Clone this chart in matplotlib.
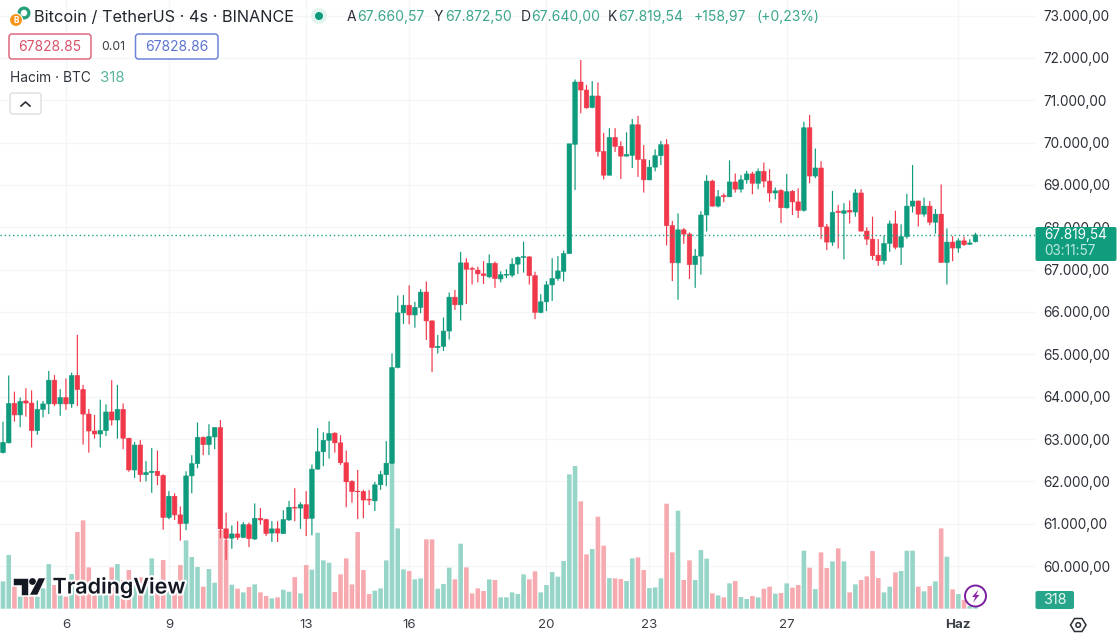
import numpy as np
import matplotlib
matplotlib.use("Agg")
import matplotlib.pyplot as plt
from matplotlib.patches import FancyBboxPatch, Rectangle, Circle, Polygon
from matplotlib.transforms import Affine2D
import matplotlib.patheffects as pe

opens = [62680,62910,63840,63570,63900,63850,63200,63700,63830,64390,
 63830,63980,63830,64500,64170,63590,63190,63120,63200,63640,
 63450,63700,63020,62270,62860,62160,62210,62240,62140,61150,
 61650,61210,61010,62130,62420,63040,62870,63050,63270,60880,
 60660,60760,60680,60980,60640,61130,61100,60780,60880,60770,
 61090,61390,61370,61450,61130,62290,62700,62970,63140,62910,
 62440,62000,61770,61760,61580,61540,61920,62160,62430,64690,
 65980,66160,65930,66110,66470,65790,65160,65190,65550,66350,
 66170,67160,67030,66990,66900,66830,67150,66780,66870,66870,
 67130,67290,67300,66860,65990,66240,66640,66790,66960,67380,
 69960,71430,71240,70830,71100,69790,69230,70120,69910,69680,
 69700,70420,69600,69120,69420,69690,69950,68040,67160,67940,
 67840,67120,67320,68290,69090,68500,68750,68720,69070,68900,
 69120,69260,69040,69320,69090,68810,68870,68460,68850,68600,
 68400,70350,69210,69400,68010,67650,68380,68330,68400,68360,
 68810,67910,67720,67340,67210,67620,68080,67530,67780,68500,
 68620,68310,68500,68120,68310,67170,67650,67510,67680,67600,
 67660.57]
highs = [63410,64500,64120,63980,64200,64150,63910,63900,64610,64510,
 64180,64430,64570,65460,64280,63710,63570,63930,63820,64390,
 64280,63840,63030,62930,62980,62480,62790,62730,62170,61770,
 61720,61410,62240,62620,63390,63060,63350,63280,63450,61260,
 60960,61060,61040,61030,61480,61370,61120,61060,61060,61320,
 61540,61840,61510,61770,62400,63260,63160,63420,63160,63090,
 62730,62030,62270,61800,61800,61990,62250,62950,65020,66390,
 66400,66630,66240,66540,66720,65800,65460,65870,66460,66520,
 67420,67270,67070,67070,67200,67360,67190,66960,67010,67270,
 67310,67660,67320,66950,66420,66730,67270,67320,67450,69970,
 71490,71950,71360,71450,71420,70230,70340,70340,70030,70240,
 70560,70630,69940,69590,69840,70040,70080,68150,68330,67980,
 67880,67490,68380,69230,69120,68880,68800,69580,69270,69230,
 69330,69310,69390,69530,69370,68940,68900,69260,68880,68920,
 70490,70650,69860,69560,68080,68860,68530,68570,68630,68900,
 68900,68000,68250,67720,67800,68160,68390,68070,68790,69470,
 68630,68700,68620,68430,69010,67970,67790,67740,67780,67720,
 67872.50]
lows = [62660,62900,63410,63280,63530,62800,63100,63510,63590,63780,
 63550,63690,63740,63780,62870,62680,63010,62800,63070,63320,
 63010,62760,62230,62080,61990,62000,61730,61910,60860,61110,
 61090,60600,60850,61720,62310,62620,62620,62760,60660,60150,
 60410,60620,60660,60450,60620,60980,60710,60570,60570,60760,
 61070,61060,60880,60710,60730,62280,62360,62540,62680,62390,
 61390,61500,61110,61130,61440,61300,61800,61890,62410,64670,
 65720,65710,65630,65970,65340,64580,65020,65080,65350,66050,
 65800,66190,66650,66700,66660,66800,66570,66700,66800,66820,
 66900,66930,66650,65830,65970,66020,66260,66740,66720,67370,
 68880,70690,70800,70810,69670,69130,69220,69780,69140,69670,
 69400,69190,68820,69110,69320,69470,67570,66730,66290,67610,
 66780,66570,66880,67900,68490,68470,68590,68710,68820,68820,
 69030,68780,68900,68940,68600,68660,68100,68440,68290,68220,
 68370,69040,69160,67720,67460,67560,67500,67240,68090,68250,
 67900,67580,67230,67090,67120,67420,67480,67110,67730,68350,
 68020,68250,68050,67850,67160,66650,67200,67400,67560,67580,
 67640]
closes = [62920,63840,63570,63890,63850,63200,63700,63830,64390,63830,
 63980,63830,64500,64170,63590,63190,63120,63200,63640,63450,
 63700,63020,62270,62860,62160,62210,62240,62140,61150,61650,
 61210,61000,62130,62420,63040,62870,63060,63270,60880,60660,
 60760,60680,60980,60650,61130,61090,60770,60880,60780,61100,
 61390,61370,61450,61120,62290,62700,62970,63130,62910,62440,
 61990,61760,61760,61560,61560,61920,62160,62430,64690,65980,
 66160,65930,66110,66470,65790,65160,65190,65550,66350,66170,
 67160,67010,67010,66900,66860,67150,66790,66880,66890,67130,
 67290,67310,66860,65990,66240,66640,66790,66970,67380,69970,
 71430,71240,70820,71100,69790,69230,70120,69910,69680,69720,
 70420,69600,69120,69420,69690,69950,68040,67160,67940,67840,
 67120,67320,68290,69090,68500,68720,68720,69070,68900,69120,
 69260,69040,69320,69090,68810,68860,68460,68840,68600,68400,
 70350,69210,69400,68010,67650,68350,68350,68390,68360,68810,
 67910,67720,67330,67210,67620,68080,67530,67780,68500,68620,
 68310,68500,68120,68310,67170,67650,67510,67680,67590,67630,
 67819.54]
volumes = [3280,6440,2640,1440,1440,1440,1440,2440,5360,2840,
 1640,1440,4160,9200,10600,4960,2440,3800,2240,4960,
 5360,3440,4640,3040,3760,2840,6040,2640,5840,2640,
 2440,5240,8200,6200,5000,2640,4760,3120,9440,8240,
 2880,2400,1960,2600,2920,1960,1520,1240,1360,2280,
 2040,3800,1840,5240,4680,9120,5800,5520,2000,4120,
 6040,2920,9200,4640,1760,2160,2440,5800,17600,9640,
 4720,4520,3520,3640,8320,8320,2400,2960,4920,3520,
 7800,4960,1840,2440,2120,3520,3440,1360,1360,1960,
 1760,4120,3520,4480,1960,2840,4400,3840,5720,16120,
 17120,12880,6520,7160,11040,7560,3680,3640,3560,3320,
 6040,6160,4640,2480,2560,3640,12600,6760,11760,3440,
 5800,3440,7040,6000,1840,1600,1360,3040,3320,1400,
 1160,1520,1360,2400,2640,1800,1880,3040,2520,2840,
 6960,4920,2360,6760,4880,5680,7240,5680,1960,2920,
 3440,3880,6920,3680,1960,2640,4360,4520,6960,6960,
 2640,2080,2720,3280,9640,6240,2320,1760,1040,320,
 318]
date_positions = [11, 29, 53, 71, 95, 113, 137, 167]
date_labels = ['6', '9', '13', '16', '20', '23', '27', 'Haz']
price_ticks = [60000 + 1000 * k for k in range(14)]
last_price = 67819.54

GREEN = '#0e9a7c'
RED = '#f0384a'
VGREEN = '#96d5c8'
VRED = '#f6aab0'
TXT = '#2b2f38'
GRID = '#f4f5f6'
FONT = 'Inter'

plt.rcParams['font.family'] = [FONT, 'DejaVu Sans']
W, H = 1120, 640
fig = plt.figure(figsize=(W / 100, H / 100), dpi=100, facecolor='white')
PLOT_W, PLOT_B = 1035, 608.7
rect = [0, 1 - PLOT_B / H, PLOT_W / W, PLOT_B / H]

ax = fig.add_axes(rect)
vol = ax.twinx()
cand = ax.twinx()
ax.set_zorder(1); vol.set_zorder(2); cand.set_zorder(3)
vol.patch.set_visible(False); cand.patch.set_visible(False)

idx = np.arange(len(opens))
o, h, l, c = map(np.array, (opens, highs, lows, closes))
up = c >= o
ax.set_xlim(-0.524, 180.4)
ylim = (58995, 73366)
ax.set_ylim(*ylim); cand.set_ylim(*ylim); vol.set_ylim(0, 73044)

vbars = vol.bar(idx, volumes, width=0.8, color=[VGREEN if u else VRED for u in up], linewidth=0)
for b in vbars:
    b.set_snap(False)
cols = [GREEN if u else RED for u in up]
wicks = cand.vlines(idx, l, h, colors=cols, linewidth=0.85)
wicks.set_snap(False)
bodies = cand.bar(idx, np.abs(c - o), bottom=np.minimum(o, c), width=0.8, color=cols,
                  edgecolor=cols, linewidth=0.4)
for b in bodies:
    b.set_snap(False)
cand.axhline(last_price, color='#17a085', lw=1.0, ls=(0, (1, 2)))

for a in (vol, cand):
    a.set_yticks([]); a.tick_params(length=0)
    for s in a.spines.values():
        s.set_visible(False)
for s in ax.spines.values():
    s.set_visible(False)
ax.set_yticks(price_ticks)
ax.set_yticklabels([f"{p:,.2f}".replace(',', 'X').replace('.', ',').replace('X', '.') for p in price_ticks],
                   fontsize=9.8, color=TXT)
ax.yaxis.tick_right()
ax.set_xticks(date_positions)
ax.set_xticklabels(date_labels, fontsize=9.6, color='#3a3e46')
ax.get_xticklabels()[-1].set_fontweight('bold')
ax.tick_params(axis='both', length=0)
ax.tick_params(axis='y', pad=6.2)
ax.tick_params(axis='x', pad=7.5)
ax.grid(True, color=GRID, lw=1)
ax.set_axisbelow(True)

# pixel transform (origin top-left) for interface furniture
px = Affine2D().scale(1, -1).translate(0, H)

def label(x, y, s, size=10.1, color=TXT, ha='left', va='center', **kw):
    return cand.text(x, y, s, transform=px, fontsize=size, color=color, ha=ha, va=va, clip_on=False, zorder=20, **kw)

def box(x0, y0, x1, y1, fc='white', ec='none', lw=1.0, r=3, z=18):
    p = FancyBboxPatch((x0 + r, y0 + r), x1 - x0 - 2 * r, y1 - y0 - 2 * r,
                       boxstyle=f"round,pad={r},rounding_size={r}", transform=px,
                       fc=fc, ec=ec, lw=lw, clip_on=False, zorder=z)
    cand.add_patch(p)
    return p

def circ(x, y, r, **kw):
    cand.add_patch(Circle((x, y), r, transform=px, clip_on=False, zorder=19, **kw))

def poly(pts, **kw):
    cand.add_patch(Polygon(pts, closed=True, transform=px, clip_on=False, zorder=21, **kw))

# header
circ(24, 13, 6.5, fc='#26a17b', ec='none')
circ(24, 13, 3.2, fc='white', ec='none')
circ(16, 20, 6.5, fc='#f7931a', ec='white', lw=0.8)
label(16, 20.5, 'B', size=6, color='white', ha='center', fontweight='bold')
label(34, 17, 'Bitcoin / TetherUS · 4s · BINANCE', size=11.75, color='#22262e')
circ(319, 16, 8, fc='#e3f4f0', ec='none')
circ(319, 16, 4, fc='#0e9a7c', ec='none')
VAL = '#3aa58d'
for x, s, col in [(347, 'A', TXT), (357.5, '67.660,57', VAL), (434, 'Y', TXT), (445, '67.872,50', VAL),
                  (520.5, 'D', TXT), (531, '67.640,00', VAL), (607.5, 'K', TXT), (618, '67.819,54', VAL),
                  (694, '+158,97', VAL), (756, '(+0,23%)', VAL)]:
    label(x, 17, s, size=10, color=col)

box(9, 34, 91, 59, ec='#df6b80', lw=1.1, r=3)
label(50, 47, '67828.85', size=10, color='#d9546a', ha='center')
label(113.5, 47, '0.01', size=8.8, color='#3a3e46', ha='center')
box(135.5, 34, 218, 59, ec='#6d84d8', lw=1.1, r=3)
label(177, 47, '67828.86', size=10, color='#5c74d0', ha='center')
label(10, 77.5, 'Hacim · BTC', size=9.9, color='#30343c')
label(100, 77.5, '318', size=10.8, color='#58b59e')
box(10, 93, 41, 114, ec='#d8dade', lw=0.9, r=2.5)
cand.plot([21, 25.5, 30], [106, 102, 106], transform=px, color='#2b2f38', lw=1.2, clip_on=False, zorder=20)

# TradingView watermark
poly([(13, 578), (28, 578), (28, 595), (20.5, 595), (20.5, 585), (13, 585)], fc='#131722', ec='white', lw=0.4)
circ(32.5, 581.5, 3.4, fc='#131722', ec='none')
cand.patches[-1].set_zorder(21)
poly([(38.5, 578), (45.5, 578), (37.5, 595), (29.5, 595)], fc='#131722', ec='white', lw=0.4)
t = label(52.5, 587, 'TradingView', size=15.5, color='#131722', fontweight='semibold')
t.set_path_effects([pe.withStroke(linewidth=3, foreground='white')])

# price tags
box(1035.5, 227, 1116.5, 261, fc='#0f9d7e', r=2)
label(1044, 235.5, '67.819,54', size=9.8, color='white')
label(1044, 251, '03:11:57', size=9.8, color='#bfe8de')
box(1035.5, 591, 1074, 609, fc='#26a58a', r=2)
label(1055, 600.5, '318', size=10.4, color='#e9f7f3', ha='center')

# lightning badge
circ(975.5, 596, 10.5, fc='white', ec='#7b1fa2', lw=1.4)
poly([(978.5, 589.5), (972, 597), (975.3, 597), (973, 602.5), (979.5, 595), (976.2, 595)], fc='#8e24aa', ec='none')

# settings hexagon
poly([(1070.5, 625), (1074.5, 618.5), (1082, 618.5), (1086, 625), (1082, 631.5), (1074.5, 631.5)],
     fc='white', ec='#2b2f38', lw=1.1)
circ(1078.2, 625, 2.3, fc='white', ec='#2b2f38', lw=1.1)
cand.patches[-1].set_zorder(22)

fig.savefig('out.png', dpi=100)
